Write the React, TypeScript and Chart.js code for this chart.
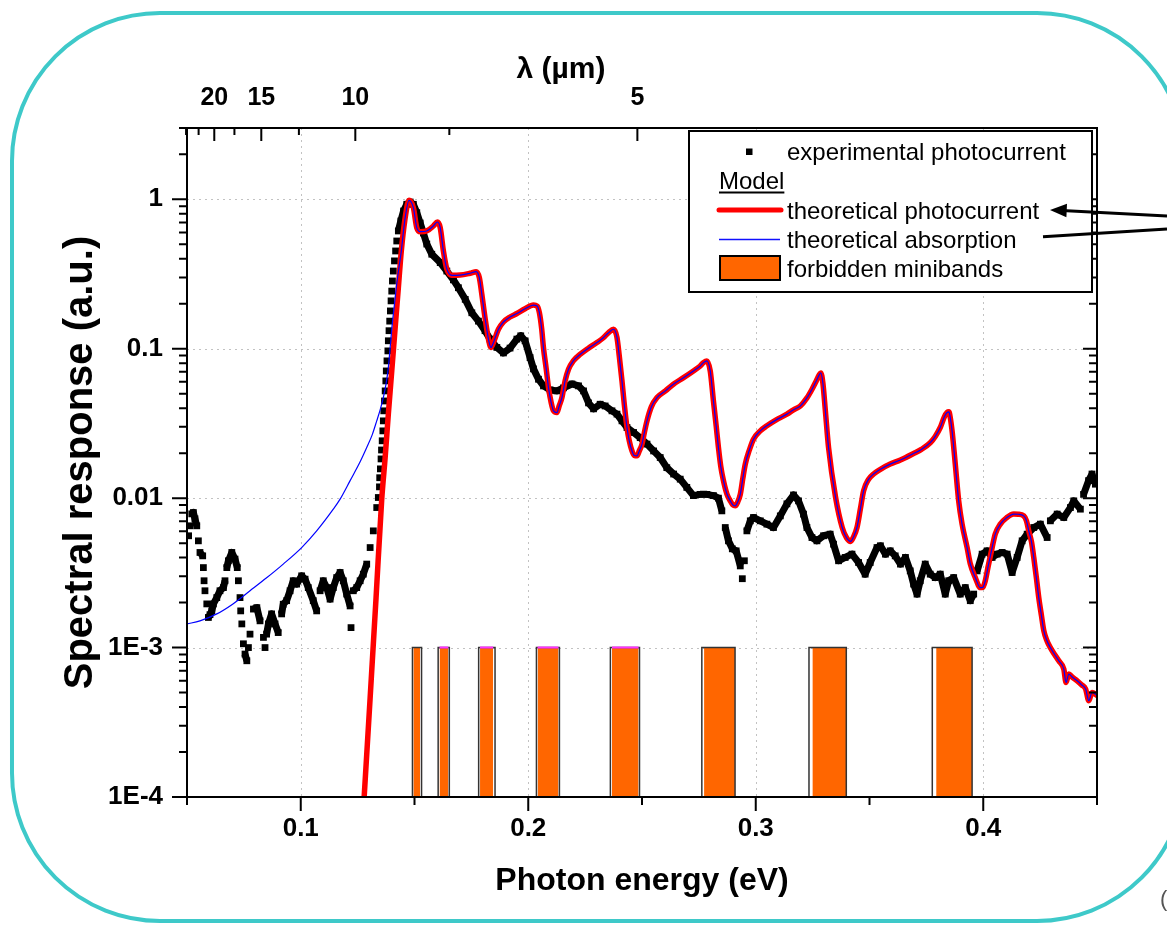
import React, { useEffect, useRef } from 'react';
import { Chart, registerables } from 'chart.js';

Chart.register(...registerables);

const FONT = '"Liberation Sans", Arial, Helvetica, sans-serif';
const HC = 1.23984; // eV·µm

// ---------- axis ticks ----------
const energyTicks = [0.1, 0.2, 0.3, 0.4];
const energyMinorTicks = [0.05, 0.15, 0.25, 0.35, 0.45];
const responseTicks = [1e-4, 1e-3, 1e-2, 0.1, 1];
const responseTickLabels = ['1E-4', '1E-3', '0.01', '0.1', '1'];
const lambdaTicks = [20, 15, 10, 5];
const lambdaMinorTicks = [25, 22.5, 17.5, 12.5, 7.5];

// ---------- experimental photocurrent [eV, a.u.] ----------
const experimental: [number, number][] = [
  [0.0507, 0.0056], [0.0513, 0.00653], [0.0521, 0.00785], [0.0528, 0.00801], [0.0535, 0.00727],
  [0.0543, 0.00653], [0.055, 0.00518], [0.0557, 0.00433], [0.0569, 0.00411], [0.0572, 0.00343],
  [0.0575, 0.0028], [0.0579, 0.0024], [0.0587, 0.00196], [0.0594, 0.00159], [0.0601, 0.00166],
  [0.0609, 0.00176], [0.0616, 0.00196], [0.0631, 0.00216], [0.0645, 0.0024], [0.066, 0.00252],
  [0.0667, 0.0028], [0.0675, 0.00343], [0.0682, 0.00381], [0.0697, 0.00433], [0.0711, 0.00391],
  [0.0721, 0.00343], [0.0726, 0.0028], [0.0733, 0.00216], [0.0736, 0.00176], [0.0741, 0.00144],
  [0.0748, 0.00106], [0.0755, 0.000905], [0.0763, 0.000816], [0.077, 0.001], [0.0777, 0.00123],
  [0.0792, 0.00181], [0.0807, 0.00185], [0.0821, 0.00151], [0.0836, 0.00117], [0.0843, 0.001],
  [0.085, 0.00123], [0.0858, 0.00144], [0.0872, 0.00168], [0.0887, 0.00144], [0.0901, 0.00126],
  [0.0916, 0.00168], [0.0923, 0.00195], [0.0938, 0.00206], [0.0953, 0.0024], [0.0967, 0.0028],
  [0.0982, 0.00266], [0.1004, 0.00302], [0.1019, 0.00287], [0.1033, 0.00252], [0.1055, 0.00206],
  [0.107, 0.00176], [0.1085, 0.0024], [0.1099, 0.0028], [0.1114, 0.00252], [0.1129, 0.00211],
  [0.1143, 0.00252], [0.1158, 0.00294], [0.1173, 0.00318], [0.1187, 0.0028], [0.1202, 0.00228],
  [0.1217, 0.0019], [0.1221, 0.00136], [0.1231, 0.0024], [0.1246, 0.00252], [0.1261, 0.0028],
  [0.1275, 0.0031], [0.129, 0.00362], [0.1305, 0.00467], [0.1319, 0.00604], [0.1334, 0.00865],
  [0.1341, 0.0101], [0.1346, 0.0119], [0.1347, 0.0137], [0.135, 0.0157], [0.1353, 0.0183],
  [0.1355, 0.021], [0.1358, 0.0242], [0.1361, 0.0282], [0.1363, 0.0329], [0.1365, 0.0384],
  [0.1368, 0.0447], [0.1371, 0.0522], [0.1374, 0.0609], [0.1376, 0.071], [0.1379, 0.0829],
  [0.1383, 0.0967], [0.1385, 0.113], [0.1388, 0.132], [0.1391, 0.153], [0.1394, 0.179],
  [0.1397, 0.209], [0.14, 0.243], [0.1403, 0.284], [0.1407, 0.331], [0.1412, 0.387],
  [0.1417, 0.451], [0.1422, 0.526], [0.1429, 0.614], [0.144, 0.716], [0.1452, 0.835],
  [0.1466, 0.926], [0.1481, 0.959], [0.1495, 0.926], [0.151, 0.814], [0.1525, 0.694],
  [0.1539, 0.595], [0.1554, 0.502], [0.1576, 0.429], [0.1613, 0.377], [0.1642, 0.331],
  [0.1671, 0.289], [0.1693, 0.256], [0.1723, 0.214], [0.1752, 0.174], [0.1781, 0.153],
  [0.181, 0.132], [0.1832, 0.116], [0.1862, 0.102], [0.1891, 0.0937], [0.192, 0.101],
  [0.195, 0.116], [0.1967, 0.122], [0.1986, 0.113], [0.2008, 0.0872], [0.2023, 0.0733],
  [0.2045, 0.0625], [0.2067, 0.0564], [0.2096, 0.053], [0.2126, 0.0522], [0.2155, 0.0547],
  [0.2192, 0.0581], [0.2221, 0.0564], [0.2243, 0.0522], [0.2265, 0.0434], [0.2287, 0.0396],
  [0.2316, 0.0425], [0.2338, 0.0414], [0.2368, 0.0384], [0.239, 0.0365], [0.2412, 0.0329],
  [0.2434, 0.0297], [0.2463, 0.0275], [0.2492, 0.0254], [0.2522, 0.023], [0.2551, 0.0207],
  [0.258, 0.0187], [0.2609, 0.016], [0.2639, 0.0145], [0.2668, 0.0134], [0.2697, 0.0118],
  [0.2726, 0.0104], [0.2756, 0.0106], [0.2785, 0.0106], [0.2814, 0.0104], [0.2836, 0.01],
  [0.2851, 0.00822], [0.2866, 0.00636], [0.288, 0.00518], [0.2897, 0.00458], [0.2914, 0.00444],
  [0.2932, 0.00352], [0.2941, 0.00289], [0.295, 0.00381], [0.2961, 0.00604], [0.2976, 0.00705],
  [0.299, 0.00742], [0.302, 0.00705], [0.3049, 0.0067], [0.3078, 0.00636], [0.3108, 0.00761],
  [0.3137, 0.00916], [0.3166, 0.0105], [0.3188, 0.00959], [0.321, 0.00782], [0.3225, 0.00636],
  [0.3247, 0.00545], [0.3269, 0.00518], [0.3298, 0.0056], [0.3327, 0.00574], [0.3342, 0.00492],
  [0.3364, 0.00381], [0.3393, 0.00401], [0.3423, 0.00422], [0.3452, 0.00371], [0.3481, 0.0031],
  [0.3503, 0.00371], [0.3533, 0.00467], [0.3548, 0.0048], [0.357, 0.00422], [0.3591, 0.00444],
  [0.3613, 0.00411], [0.3636, 0.00362], [0.3658, 0.00401], [0.3679, 0.00326], [0.3694, 0.00266],
  [0.3709, 0.00228], [0.3723, 0.0028], [0.3745, 0.00362], [0.3767, 0.0031], [0.3789, 0.00294],
  [0.3811, 0.0031], [0.3833, 0.00228], [0.3848, 0.0028], [0.387, 0.00294], [0.3899, 0.00228],
  [0.3921, 0.00252], [0.3943, 0.00206], [0.3958, 0.00228], [0.3973, 0.00326], [0.3995, 0.00422],
  [0.4017, 0.00444], [0.4039, 0.00401], [0.4061, 0.00422], [0.4083, 0.00433], [0.4105, 0.00422],
  [0.4127, 0.00318], [0.4149, 0.00401], [0.4171, 0.00518], [0.4193, 0.00574], [0.4222, 0.00636],
  [0.4251, 0.0067], [0.4281, 0.00545], [0.4295, 0.00705], [0.4325, 0.00782], [0.4354, 0.00742],
  [0.4383, 0.00865], [0.4398, 0.00959], [0.4427, 0.00844], [0.4441, 0.0106], [0.4463, 0.0131],
  [0.4478, 0.0145], [0.4493, 0.0124],
];

// ---------- model: onset of the theoretical photocurrent ----------
const photocurrentOnset: [number, number][] = [
  [0.1274, 0.000076], [0.1305, 0.000461], [0.1331, 0.00215], [0.1356, 0.00985], [0.1371, 0.0187],
  [0.1385, 0.0365], [0.14, 0.071], [0.1415, 0.138], [0.1429, 0.256],
];

// ---------- model: low-energy tail of the theoretical absorption ----------
const absorptionOnset: [number, number][] = [
  [0.05, 0.00144], [0.0557, 0.00151], [0.0631, 0.00168], [0.0702, 0.00196], [0.0777, 0.0024],
  [0.085, 0.00293], [0.0923, 0.00362], [0.1004, 0.00467], [0.107, 0.00604], [0.1143, 0.00844],
  [0.1173, 0.00985], [0.1217, 0.0131], [0.1261, 0.0175], [0.129, 0.0218], [0.1314, 0.0265],
  [0.1334, 0.0329], [0.1349, 0.039], [0.1363, 0.0471], [0.1375, 0.0581], [0.1385, 0.0747],
  [0.1393, 0.102], [0.1401, 0.14], [0.1412, 0.199], [0.1423, 0.28], [0.1434, 0.369],
];

// ---------- model: common part (photocurrent = absorption) ----------
const theoryCommon: [number, number][] = [
  [0.1442, 0.451], [0.1457, 0.716], [0.1476, 0.985], [0.1495, 0.879], [0.151, 0.646],
  [0.1525, 0.607], [0.1554, 0.614], [0.1583, 0.663], [0.1601, 0.705], [0.1613, 0.646],
  [0.1627, 0.451], [0.1642, 0.342], [0.1664, 0.31], [0.17, 0.311], [0.1744, 0.32],
  [0.1771, 0.328], [0.1785, 0.299], [0.1796, 0.231], [0.181, 0.161], [0.1825, 0.116],
  [0.1836, 0.102], [0.1847, 0.11], [0.1869, 0.135], [0.1891, 0.151], [0.192, 0.163],
  [0.195, 0.172], [0.1986, 0.185], [0.2023, 0.196], [0.2039, 0.193], [0.2049, 0.174],
  [0.2059, 0.136], [0.2067, 0.101], [0.2079, 0.0733], [0.2089, 0.0549], [0.2101, 0.0434],
  [0.2111, 0.0384], [0.2126, 0.0374], [0.2136, 0.0414], [0.2148, 0.0471], [0.2162, 0.0609],
  [0.2177, 0.0729], [0.2198, 0.0829], [0.2229, 0.0919], [0.2263, 0.1005], [0.2302, 0.11],
  [0.2329, 0.118], [0.2353, 0.128], [0.2375, 0.135], [0.239, 0.119], [0.24, 0.0895],
  [0.2412, 0.0609], [0.2422, 0.0427], [0.2434, 0.0297], [0.2444, 0.0242], [0.2456, 0.0207],
  [0.2466, 0.0193], [0.2478, 0.0192], [0.2488, 0.0207], [0.25, 0.023], [0.251, 0.0273],
  [0.2522, 0.0329], [0.2541, 0.0408], [0.2566, 0.0471], [0.2603, 0.0522], [0.2638, 0.0579],
  [0.2681, 0.0638], [0.2726, 0.071], [0.2756, 0.0767], [0.277, 0.0807], [0.2785, 0.0829],
  [0.28, 0.071], [0.2814, 0.0447], [0.2826, 0.0305], [0.2836, 0.0218], [0.2846, 0.0164],
  [0.2858, 0.0131], [0.2873, 0.0107], [0.2888, 0.00959], [0.2899, 0.00902], [0.291, 0.00888],
  [0.2921, 0.00945], [0.2932, 0.0106], [0.2943, 0.0135], [0.2954, 0.0169], [0.2972, 0.021],
  [0.299, 0.0248], [0.302, 0.0282], [0.3049, 0.0305], [0.309, 0.0334], [0.3137, 0.0365],
  [0.3166, 0.039], [0.3196, 0.0414], [0.3225, 0.0469], [0.3248, 0.0538], [0.3266, 0.0609],
  [0.3279, 0.0668], [0.3286, 0.0689], [0.3295, 0.059], [0.3306, 0.0384], [0.332, 0.0218],
  [0.3351, 0.0101], [0.338, 0.00636], [0.3399, 0.00543], [0.3417, 0.00513], [0.343, 0.00551],
  [0.3445, 0.00636], [0.346, 0.00848], [0.3474, 0.0112], [0.3495, 0.0133], [0.3518, 0.0145],
  [0.3548, 0.0156], [0.3591, 0.0169], [0.3636, 0.018], [0.3694, 0.0199], [0.3728, 0.0212],
  [0.3767, 0.0235], [0.3789, 0.0259], [0.3811, 0.0297], [0.3829, 0.035], [0.3841, 0.0374],
  [0.3849, 0.0378], [0.3855, 0.0346], [0.3864, 0.0273], [0.3877, 0.0169], [0.3892, 0.00959],
  [0.3907, 0.0067], [0.3929, 0.00467], [0.3943, 0.00364], [0.3965, 0.00294], [0.3987, 0.00252],
  [0.3998, 0.00253], [0.4009, 0.0028], [0.4022, 0.00352], [0.4039, 0.00467], [0.4053, 0.00577],
  [0.4075, 0.0067], [0.4102, 0.00738], [0.4134, 0.00782], [0.4154, 0.0078], [0.4178, 0.00761],
  [0.419, 0.00705], [0.42, 0.00604], [0.4212, 0.0051], [0.4222, 0.00401], [0.4234, 0.00289],
  [0.4244, 0.00216], [0.4256, 0.00163], [0.4266, 0.0013], [0.428, 0.00111], [0.4295, 0.001],
  [0.4313, 0.000902], [0.4332, 0.000816], [0.4354, 0.000718], [0.4364, 0.000584], [0.4376, 0.000665],
  [0.4392, 0.000633], [0.4413, 0.000599], [0.4432, 0.000564], [0.445, 0.000528], [0.4464, 0.000441],
  [0.4478, 0.000501], [0.4502, 0.000476],
];

// ---------- forbidden minibands [eV] ----------
const bandStart = [0.1495, 0.161, 0.1788, 0.2041, 0.2368, 0.2773, 0.3249, 0.3793];
const bandEnd = [0.1525, 0.1649, 0.1846, 0.2133, 0.2485, 0.2909, 0.3398, 0.3951];
const bandOutlineStart = [0.1491, 0.1604, 0.1782, 0.2036, 0.2361, 0.2763, 0.3234, 0.3776];
const bandOutlineEnd = [0.1531, 0.1653, 0.1854, 0.2137, 0.2489, 0.2909, 0.3398, 0.3951];
const bandsWithPinkTop = [1, 2, 3, 4];
const bandTop = 1e-3;
const bandBottom = 1e-4;

const toXY = (arr: [number, number][]) => arr.map(([x, y]) => ({ x, y }));

function roundRectPath(ctx: CanvasRenderingContext2D, x0: number, y0: number, x1: number, y1: number, r: number) {
  ctx.beginPath();
  ctx.moveTo(x0 + r, y0);
  ctx.lineTo(x1 - r, y0);
  ctx.arcTo(x1, y0, x1, y0 + r, r);
  ctx.lineTo(x1, y1 - r);
  ctx.arcTo(x1, y1, x1 - r, y1, r);
  ctx.lineTo(x0 + r, y1);
  ctx.arcTo(x0, y1, x0, y1 - r, r);
  ctx.lineTo(x0, y0 + r);
  ctx.arcTo(x0, y0, x0 + r, y0, r);
  ctx.closePath();
}

const decorPlugin = {
  id: 'decor',
  beforeDatasetsDraw(chart: any) {
    const { ctx, chartArea: a, scales } = chart;
    const xs = scales.x;
    const ys = scales.y;
    ctx.save();
    ctx.strokeStyle = '#c2c2c2';
    ctx.lineWidth = 1;
    ctx.setLineDash([2, 4]);
    ctx.beginPath();
    for (const v of energyTicks) {
      const x = Math.round(xs.getPixelForValue(v)) + 0.5;
      ctx.moveTo(x, a.top);
      ctx.lineTo(x, a.bottom);
    }
    for (const v of responseTicks) {
      if (v <= bandBottom) continue;
      const y = Math.round(ys.getPixelForValue(v)) + 0.5;
      ctx.moveTo(a.left, y);
      ctx.lineTo(a.right, y);
    }
    ctx.stroke();
    ctx.restore();
  },
  afterDatasetsDraw(chart: any) {
    const { ctx, chartArea: a, scales } = chart;
    const xs = scales.x;
    const x2 = scales.x2;
    const ys = scales.y;
    ctx.save();
    ctx.strokeStyle = '#000';
    ctx.lineWidth = 2;
    ctx.strokeRect(a.left, a.top, a.right - a.left, a.bottom - a.top);
    ctx.beginPath();
    for (const v of energyTicks) {
      const x = xs.getPixelForValue(v);
      ctx.moveTo(x, a.bottom); ctx.lineTo(x, a.bottom + 14);
    }
    for (const v of energyMinorTicks) {
      const x = xs.getPixelForValue(v);
      ctx.moveTo(x, a.bottom); ctx.lineTo(x, a.bottom + 8);
    }
    for (const l of lambdaTicks) {
      const x = x2.getPixelForValue(HC / l);
      ctx.moveTo(x, a.top); ctx.lineTo(x, a.top + 13);
    }
    for (const l of lambdaMinorTicks) {
      const x = x2.getPixelForValue(HC / l);
      if (x < a.left - 1) continue;
      ctx.moveTo(x, a.top); ctx.lineTo(x, a.top + 7);
    }
    for (const d of responseTicks) {
      const y = ys.getPixelForValue(d);
      ctx.moveTo(a.left - 15, y); ctx.lineTo(a.left, y);
      ctx.moveTo(a.right, y); ctx.lineTo(a.right - 14, y);
      for (let k = 2; k <= 9; k++) {
        const v = d * k;
        if (v > ys.max) break;
        const ym = ys.getPixelForValue(v);
        ctx.moveTo(a.left - 8, ym); ctx.lineTo(a.left, ym);
        ctx.moveTo(a.right, ym); ctx.lineTo(a.right - 8, ym);
      }
    }
    ctx.stroke();
    ctx.restore();
  },
  afterDraw(chart: any) {
    const { ctx } = chart;
    ctx.save();
    ctx.fillStyle = '#000';
    ctx.font = `bold 30px ${FONT}`;
    ctx.textAlign = 'center';
    ctx.textBaseline = 'middle';
    ctx.fillText('λ (µm)', 561, 70);

    // legend
    const lx = 689, ly = 131, lw = 403, lh = 161;
    ctx.fillStyle = '#fff';
    ctx.fillRect(lx, ly, lw, lh);
    ctx.strokeStyle = '#000';
    ctx.lineWidth = 2;
    ctx.strokeRect(lx, ly, lw, lh);
    ctx.font = `24px ${FONT}`;
    ctx.textAlign = 'left';
    ctx.textBaseline = 'alphabetic';
    ctx.fillStyle = '#000';
    ctx.fillRect(746, 148.5, 6.5, 6.5);
    ctx.fillText('experimental photocurrent', 787, 160);
    ctx.fillText('Model', 719, 189);
    const mw = ctx.measureText('Model').width;
    ctx.beginPath();
    ctx.moveTo(719, 192.5); ctx.lineTo(719 + mw, 192.5);
    ctx.lineWidth = 2; ctx.stroke();
    ctx.beginPath();
    ctx.moveTo(719, 210); ctx.lineTo(781, 210);
    ctx.strokeStyle = '#ff0000'; ctx.lineWidth = 5; ctx.lineCap = 'round'; ctx.stroke();
    ctx.lineCap = 'butt';
    ctx.fillText('theoretical photocurrent', 787, 219);
    ctx.beginPath();
    ctx.moveTo(719, 239.5); ctx.lineTo(780, 239.5);
    ctx.strokeStyle = '#1010ff'; ctx.lineWidth = 1.4; ctx.stroke();
    ctx.fillText('theoretical absorption', 787, 248);
    ctx.fillStyle = '#ff6600';
    ctx.fillRect(720, 256, 60, 24);
    ctx.strokeStyle = '#000'; ctx.lineWidth = 2;
    ctx.strokeRect(720, 256, 60, 24);
    ctx.fillStyle = '#000';
    ctx.fillText('forbidden minibands', 787, 277);

    // annotation arrows
    ctx.strokeStyle = '#000';
    ctx.lineWidth = 3;
    ctx.beginPath();
    ctx.moveTo(1167, 216); ctx.lineTo(1062, 210.6);
    ctx.moveTo(1043, 236.7); ctx.lineTo(1167, 229);
    ctx.stroke();
    ctx.beginPath();
    ctx.moveTo(1050, 210);
    ctx.lineTo(1067, 203.8);
    ctx.lineTo(1066.4, 217.2);
    ctx.closePath();
    ctx.fill();

    // slide frame
    ctx.strokeStyle = '#3ec9c9';
    ctx.lineWidth = 4;
    roundRectPath(ctx, 12, 13, 1185, 921, 148);
    ctx.stroke();
    ctx.fillStyle = '#555';
    ctx.font = `22px ${FONT}`;
    ctx.fillText('(', 1160, 906);
    ctx.restore();
  },
};

export default function App() {
  const ref = useRef<HTMLCanvasElement>(null);
  useEffect(() => {
    if (!ref.current) return;
    const tickFont = { family: FONT, size: 26, weight: 'bold' as const };
    const noGrid = { display: false, drawTicks: false };
    const datasets: any[] = [
      {
        label: 'theoretical absorption',
        data: toXY([...absorptionOnset, ...theoryCommon]),
        borderColor: '#0000ff', borderWidth: 1.2, pointRadius: 0,
        cubicInterpolationMode: 'monotone', fill: false,
      },
      {
        label: 'theoretical photocurrent',
        data: toXY([...photocurrentOnset, ...theoryCommon]),
        borderColor: '#ff0000', borderWidth: 5.5, pointRadius: 0,
        cubicInterpolationMode: 'monotone', fill: false,
      },
      {
        label: 'experimental photocurrent',
        data: toXY(experimental),
        showLine: true, borderColor: '#000', borderWidth: 7,
        borderJoinStyle: 'round',
        pointStyle: 'rect', pointRadius: 4.8, pointBackgroundColor: '#000', pointBorderWidth: 0,
        fill: false,
        segment: {
          borderColor: (c: any) => {
            const dx = Math.abs(c.p1.x - c.p0.x);
            const dy = Math.abs(c.p1.y - c.p0.y);
            return dy > 3 * dx + 5 ? 'rgba(0,0,0,0)' : '#000';
          },
        },
      },
      {
        label: 'band top',
        data: bandsWithPinkTop.flatMap((i) => [
          { x: bandStart[i], y: bandTop }, { x: bandEnd[i], y: bandTop }, { x: bandEnd[i], y: null },
        ]),
        borderColor: '#ff33ff', borderWidth: 2, pointRadius: 0, fill: false,
      },
      {
        label: 'band outline',
        data: bandOutlineStart.flatMap((s, i) => [
          { x: s, y: bandBottom }, { x: s, y: bandTop },
          { x: bandOutlineEnd[i], y: bandTop }, { x: bandOutlineEnd[i], y: bandBottom },
          { x: bandOutlineEnd[i], y: null },
        ]),
        borderColor: '#333', borderWidth: 1.5, pointRadius: 0, fill: false,
      },
      ...bandStart.map((s, i) => ({
        label: 'forbidden miniband ' + (i + 1),
        data: [{ x: s, y: bandTop }, { x: bandEnd[i], y: bandTop }],
        borderColor: 'rgba(0,0,0,0)', borderWidth: 0, pointRadius: 0,
        backgroundColor: '#ff6600', fill: 'start',
      })),
    ];

    const chart = new Chart(ref.current, {
      type: 'line',
      data: { datasets },
      options: {
        responsive: false,
        animation: false,
        devicePixelRatio: 1,
        layout: { padding: { left: 0, right: 70, top: 0, bottom: 0 } },
        plugins: { legend: { display: false }, tooltip: { enabled: false } },
        scales: {
          x: {
            type: 'linear', position: 'bottom', min: 0.05, max: 0.45,
            afterBuildTicks: (s: any) => { s.ticks = energyTicks.map((v) => ({ value: v })); },
            afterFit: (s: any) => { s.height = 128; },
            grid: noGrid, border: { display: false },
            ticks: {
              padding: 16, color: '#000', font: tickFont, maxRotation: 0, autoSkip: false,
              callback: (v: any) => String(v),
            },
            title: {
              display: true, text: 'Photon energy (eV)', color: '#000',
              font: { family: FONT, size: 32, weight: 'bold' }, padding: { top: 0, bottom: 25 },
            },
          },
          x2: {
            type: 'linear', position: 'top', min: 0.05, max: 0.45,
            afterBuildTicks: (s: any) => { s.ticks = lambdaTicks.map((l) => ({ value: HC / l })); },
            afterFit: (s: any) => { s.height = 128; },
            grid: noGrid, border: { display: false },
            ticks: {
              padding: 15, color: '#000', font: { family: FONT, size: 25, weight: 'bold' },
              maxRotation: 0, autoSkip: false,
              callback: (v: any) => String(Math.round(HC / v)),
            },
          },
          y: {
            type: 'logarithmic', position: 'left', min: 1e-4, max: 3,
            afterBuildTicks: (s: any) => { s.ticks = responseTicks.map((v) => ({ value: v, major: true })); },
            afterFit: (s: any) => { s.width = 187; },
            grid: noGrid, border: { display: false },
            ticks: {
              padding: 24, color: '#000', font: tickFont, autoSkip: false,
              callback: (v: any) => {
                const i = responseTicks.findIndex((t) => Math.abs(Math.log10(t) - Math.log10(v)) < 1e-6);
                return i >= 0 ? responseTickLabels[i] : '';
              },
            },
            title: {
              display: true, text: 'Spectral response (a.u.)', color: '#000',
              font: { family: FONT, size: 40, weight: 'bold' }, padding: { top: 57, bottom: 0 },
            },
          },
        },
      },
      plugins: [decorPlugin],
    } as any);
    return () => chart.destroy();
  }, []);

  return (
    <div style={{ position: 'absolute', left: 0, top: 0, width: 1167, height: 925, background: '#fff' }}>
      <canvas ref={ref} width={1167} height={925} style={{ width: 1167, height: 925, display: 'block' }} />
    </div>
  );
}
